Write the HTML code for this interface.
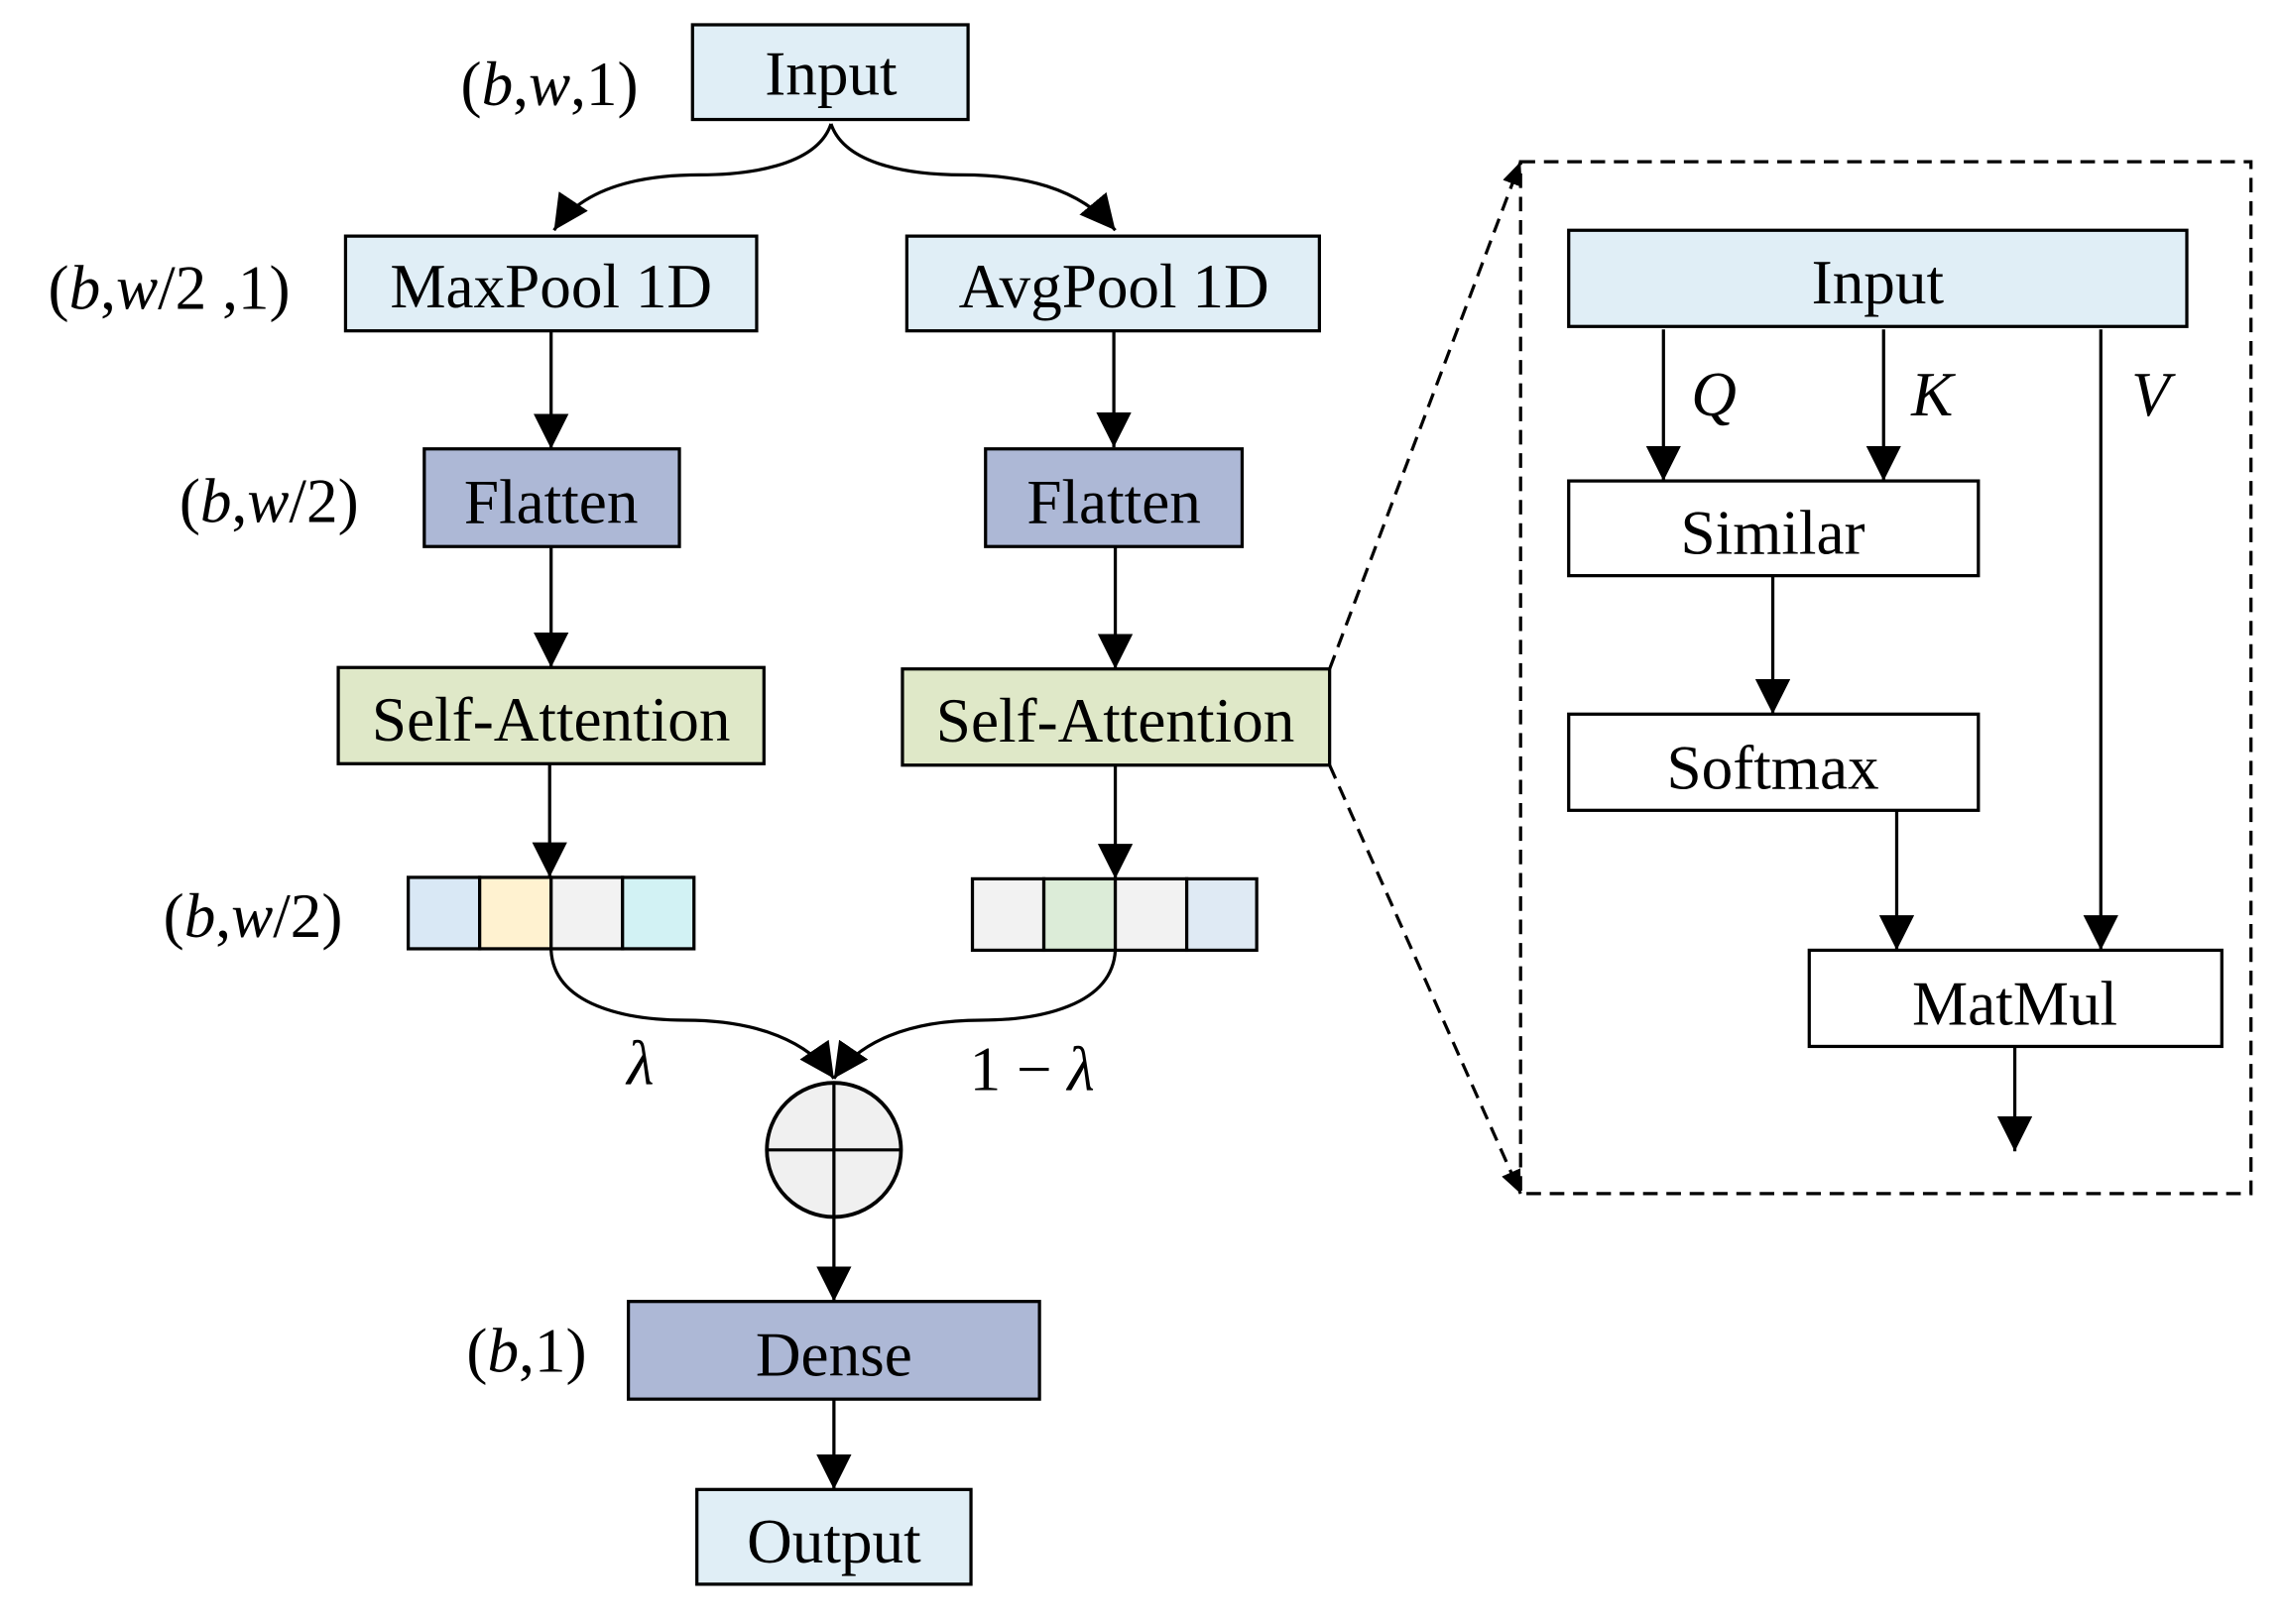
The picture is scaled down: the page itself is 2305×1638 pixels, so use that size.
<!DOCTYPE html>
<html><head><meta charset="utf-8"><style>html,body{margin:0;padding:0;background:#fff}svg{display:block}text{font-family:"Liberation Serif",serif;fill:#000}</style></head>
<body>
<svg width="2305" height="1638" viewBox="0 0 1568 1114.3" xmlns="http://www.w3.org/2000/svg">
<defs>
<marker id="b" markerWidth="24" markerHeight="24" refX="24" refY="12" orient="auto" markerUnits="userSpaceOnUse" viewBox="0 0 24 24"><path d="M0,0 L24,12 L0,24 z" fill="#000"/></marker>
<marker id="c" markerWidth="16" markerHeight="14" refX="16" refY="7" orient="auto" markerUnits="userSpaceOnUse" viewBox="0 0 16 14"><path d="M0,0 L16,7 L0,14 z" fill="#000"/></marker>
</defs>
<g stroke="#000" stroke-width="2.2" fill="none">
<rect x="475" y="17" width="189" height="65" fill="#e0eef6"/>
<rect x="237" y="162" width="282" height="65" fill="#e0eef6"/>
<rect x="622" y="162" width="283" height="65" fill="#e0eef6"/>
<rect x="291" y="308" width="175" height="67" fill="#adb8d6"/>
<rect x="676" y="308" width="176" height="67" fill="#adb8d6"/>
<rect x="232" y="458" width="292" height="66" fill="#dfe8c8"/>
<rect x="619" y="459" width="293" height="66" fill="#dfe8c8"/>
<rect x="280" y="602" width="49" height="49" fill="#d9e8f5"/>
<rect x="329" y="602" width="49" height="49" fill="#fff2d0"/>
<rect x="378" y="602" width="49" height="49" fill="#f2f2f2"/>
<rect x="427" y="602" width="49" height="49" fill="#d2f2f4"/>
<rect x="667" y="603" width="49" height="49" fill="#f2f2f2"/>
<rect x="716" y="603" width="49" height="49" fill="#dcecd8"/>
<rect x="765" y="603" width="49" height="49" fill="#f2f2f2"/>
<rect x="814" y="603" width="48" height="49" fill="#dfeaf4"/>
<circle cx="572" cy="789" r="46" fill="#f0f0f0" stroke-width="2.6"/>
<line x1="526" y1="789" x2="618" y2="789"/>
<line x1="572" y1="743" x2="572" y2="835"/>
<rect x="431" y="893" width="282" height="67" fill="#adb8d6"/>
<rect x="478" y="1022" width="188" height="65" fill="#e0eef6"/>
<path d="M570,85 C560,115 510,120 480,120 C440,120 400,128 380,158" marker-end="url(#b)"/>
<path d="M570,85 C580,115 630,120 660,120 C700,120 740,128 765,158" marker-end="url(#b)"/>
<line x1="378" y1="227" x2="378" y2="308" marker-end="url(#b)"/>
<line x1="764" y1="227" x2="764" y2="307" marker-end="url(#b)"/>
<line x1="378" y1="375" x2="378" y2="458" marker-end="url(#b)"/>
<line x1="765" y1="375" x2="765" y2="459" marker-end="url(#b)"/>
<line x1="377" y1="524" x2="377" y2="602" marker-end="url(#b)"/>
<line x1="765" y1="525" x2="765" y2="603" marker-end="url(#b)"/>
<path d="M378,652 C380,690 430,700 470,700 C520,700 555,715 572,740" marker-end="url(#b)"/>
<path d="M765,652 C763,690 713,700 673,700 C623,700 589,715 572,740" marker-end="url(#b)"/>
<line x1="572" y1="835" x2="572" y2="893" marker-end="url(#b)"/>
<line x1="572" y1="960" x2="572" y2="1022" marker-end="url(#b)"/>
<rect x="1043" y="111" width="501" height="708" stroke-dasharray="10,6"/>
<line x1="912" y1="459" x2="1043" y2="111" stroke-dasharray="10,6" marker-end="url(#c)"/>
<line x1="912" y1="525" x2="1043" y2="819" stroke-dasharray="10,6" marker-end="url(#c)"/>
<rect x="1076" y="158" width="424" height="66" fill="#e0eef6"/>
<rect x="1076" y="330" width="281" height="65" fill="#fff"/>
<rect x="1076" y="490" width="281" height="66" fill="#fff"/>
<rect x="1241" y="652" width="283" height="66" fill="#fff"/>
<line x1="1141" y1="226" x2="1141" y2="330" marker-end="url(#b)"/>
<line x1="1292" y1="226" x2="1292" y2="330" marker-end="url(#b)"/>
<line x1="1441" y1="226" x2="1441" y2="652" marker-end="url(#b)"/>
<line x1="1216" y1="395" x2="1216" y2="490" marker-end="url(#b)"/>
<line x1="1301" y1="556" x2="1301" y2="652" marker-end="url(#b)"/>
<line x1="1382" y1="718" x2="1382" y2="790" marker-end="url(#b)"/>
</g>
<g font-size="43" text-anchor="middle">
<text x="570" y="65">Input</text>
<text x="378" y="211">MaxPool 1D</text>
<text x="764" y="211">AvgPool 1D</text>
<text x="378" y="359">Flatten</text>
<text x="764" y="359">Flatten</text>
<text x="378" y="508">Self-Attention</text>
<text x="765" y="509">Self-Attention</text>
<text x="572" y="944">Dense</text>
<text x="572" y="1072">Output</text>
<text x="1288" y="208">Input</text>
<text x="1216" y="380">Similar</text>
<text x="1216" y="541">Softmax</text>
<text x="1382" y="703">MatMul</text>
</g>
<g font-size="43">
<text x="316" y="72">(<tspan font-style="italic">b</tspan>,<tspan font-style="italic">w</tspan>,1)</text>
<text x="33" y="212">(<tspan font-style="italic">b</tspan>,<tspan font-style="italic">w</tspan>/2 ,1)</text>
<text x="123" y="358">(<tspan font-style="italic">b</tspan>,<tspan font-style="italic">w</tspan>/2)</text>
<text x="112" y="643">(<tspan font-style="italic">b</tspan>,<tspan font-style="italic">w</tspan>/2)</text>
<text x="320" y="941">(<tspan font-style="italic">b</tspan>,1)</text>
<text x="430" y="744" font-style="italic">λ</text>
<text x="665" y="748">1 − <tspan font-style="italic">λ</tspan></text>
<text x="1160" y="285" font-style="italic">Q</text>
<text x="1311" y="285" font-style="italic">K</text>
<text x="1462" y="285" font-style="italic">V</text>
</g>
</svg>
</body></html>
